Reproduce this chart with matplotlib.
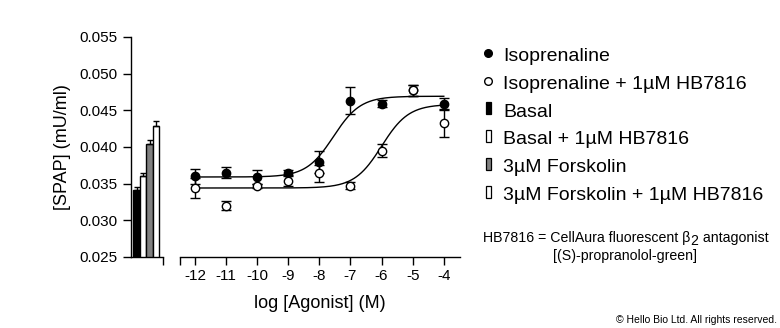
import matplotlib
matplotlib.use('Agg')
import matplotlib.pyplot as plt
import numpy as np
from matplotlib.patches import Rectangle

plt.rcParams['font.family'] = ['Liberation Sans', 'DejaVu Sans']
plt.rcParams['axes.unicode_minus'] = False

# concentration-response data
log_conc = [-12, -11, -10, -9, -8, -7, -6, -5, -4]
iso = [0.0360, 0.0365, 0.0359, 0.0365, 0.0380, 0.0463, 0.0459, 0.0477, 0.0459]
iso_err = [0.0010, 0.0007, 0.0009, 0.0003, 0.0015, 0.0018, 0.0005, 0.0007, 0.0007]
iso_hb = [0.0344, 0.0320, 0.0347, 0.0354, 0.0364, 0.0347, 0.0395, 0.0477, 0.0432]
iso_hb_err = [0.0013, 0.0006, 0.0003, 0.0007, 0.0012, 0.0005, 0.0009, 0.0007, 0.0018]

# fitted curves: bottom, top, logEC50
iso_fit = (0.0359, 0.0469, -7.55)
iso_hb_fit = (0.0344, 0.0458, -6.0)

# control bars
bar_values = [0.0341, 0.0360, 0.0404, 0.0428]
bar_err = [0.0005, 0.0004, 0.0005, 0.0007]
bar_colors = ['black', 'white', '#808080', 'white']

legend_labels = ['Isoprenaline', 'Isoprenaline + 1µM HB7816', 'Basal',
                 'Basal + 1µM HB7816', '3µM Forskolin',
                 '3µM Forskolin + 1µM HB7816']

y_ticks = [0.025, 0.030, 0.035, 0.040, 0.045, 0.050, 0.055]


def sigmoid(x, bottom, top, logec50):
    return bottom + (top - bottom) / (1 + 10 ** (logec50 - x))


fig = plt.figure(figsize=(7.8, 3.28), dpi=100)

bottom = (328 - 257) / 328
height = 220.2 / 328

# bar panel
axb = fig.add_axes([131 / 780, bottom, 32 / 780, height])
xb = np.arange(len(bar_values))
axb.bar(xb, bar_values, width=1.0, color=bar_colors, edgecolor='black',
        linewidth=1.0, bottom=0, zorder=2)
axb.errorbar(xb, bar_values, yerr=[np.zeros(4), bar_err], fmt='none',
             ecolor='black', elinewidth=1.0, capsize=2.4, capthick=1.0, zorder=3)
axb.set_xlim(-0.854, 4.07)
axb.set_ylim(0.025, 0.055)
axb.set_yticks(y_ticks)
axb.set_yticklabels([f'{v:.3f}' for v in y_ticks], fontsize=11)
axb.set_xticks([4.06])
axb.set_xticklabels([''])
for s in ['top', 'right']:
    axb.spines[s].set_visible(False)
axb.spines['left'].set_linewidth(1.0)
axb.spines['bottom'].set_linewidth(1.0)
axb.tick_params(length=6, width=1.0, pad=4)
axb.set_ylabel('[SPAP] (mU/ml)', fontsize=13, labelpad=6)

# curve panel
axc = fig.add_axes([180 / 780, bottom, 280 / 780, height])
xs = np.linspace(-12, -4, 300)
axc.plot(xs, sigmoid(xs, *iso_fit), color='black', linewidth=1.0)
axc.plot(xs, sigmoid(xs, *iso_hb_fit), color='black', linewidth=1.0)
axc.errorbar(log_conc, iso, yerr=iso_err, fmt='o', color='black',
             markerfacecolor='black', markeredgecolor='black', markersize=6,
             elinewidth=1.0, capsize=3.4, capthick=1.0, zorder=3)
axc.errorbar(log_conc, iso_hb, yerr=iso_hb_err, fmt='o', color='black',
             markerfacecolor='white', markeredgecolor='black', markersize=6,
             markeredgewidth=1.0, elinewidth=1.0, capsize=3.4, capthick=1.0,
             zorder=4)
axc.set_xlim(-12.482, -3.479)
axc.set_ylim(0.025, 0.055)
axc.set_xticks([-12.47] + log_conc)
axc.set_xticklabels([''] + [str(v) for v in log_conc], fontsize=11)
axc.set_yticks([])
for s in ['top', 'right', 'left']:
    axc.spines[s].set_visible(False)
axc.spines['bottom'].set_linewidth(1.0)
axc.tick_params(axis='x', length=6, width=1.0, pad=3)
axc.set_xlabel('log [Agonist] (M)', fontsize=13, labelpad=8)

# legend drawn in pixel space
axl = fig.add_axes([0, 0, 1, 1])
axl.set_xlim(0, 780)
axl.set_ylim(328, 0)
axl.axis('off')
axl.plot([488], [53], 'o', color='black', markersize=5.5)
axl.plot([488], [81], 'o', markerfacecolor='white', markeredgecolor='black',
         markersize=5.5, markeredgewidth=1.0)
rect_y = [108, 136, 164, 192]
for yy, c in zip(rect_y, bar_colors):
    axl.add_patch(Rectangle((485.5, yy - 6), 5, 12, facecolor=c,
                            edgecolor='black', linewidth=0.9))
text_y = [61, 89, 117, 144.5, 172.5, 200.5]
for yy, lab in zip(text_y, legend_labels):
    axl.text(503, yy, lab, fontsize=14, va='baseline', ha='left')

# footnote, with a lowered "2" after beta
t1 = axl.text(483, 242, 'HB7816 = CellAura fluorescent β',
              fontsize=10.2, ha='left', va='baseline')
t2 = axl.annotate('2', xy=(1, 0), xycoords=t1, xytext=(0.2, -2.2),
                  textcoords='offset points', fontsize=10.2,
                  ha='left', va='bottom')
axl.annotate(' antagonist', xy=(1, 0), xycoords=(t2, t1), xytext=(0.2, 0),
             textcoords='offset points', fontsize=10.2, ha='left', va='bottom')
axl.text(625.5, 260, '[(S)-propranolol-green]',
         fontsize=10.2, ha='center', va='baseline')
axl.text(777, 323, '© Hello Bio Ltd. All rights reserved.',
         fontsize=7.5, ha='right', va='baseline')

fig.savefig('out.png', dpi=100)
plt.close(fig)
